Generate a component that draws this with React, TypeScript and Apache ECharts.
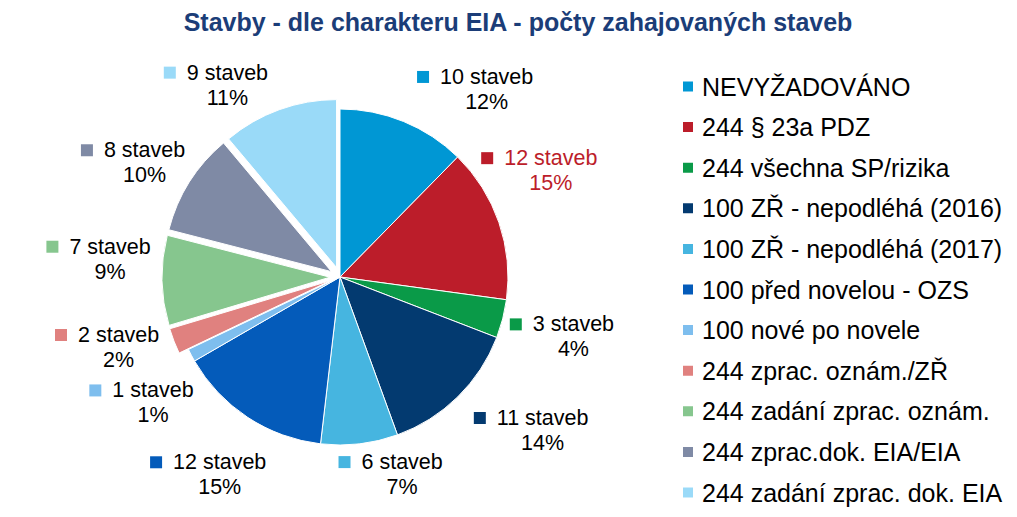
import React, { useEffect, useRef } from "react";
import * as echarts from "echarts";

const titleText = "Stavby - dle charakteru EIA - počty zahajovaných staveb";

const categories = [
  "NEVYŽADOVÁNO",
  "244 § 23a PDZ",
  "244 všechna SP/rizika",
  "100 ZŘ - nepodléhá (2016)",
  "100 ZŘ - nepodléhá (2017)",
  "100 před novelou - OZS",
  "100 nové po novele",
  "244 zprac. oznám./ZŘ",
  "244 zadání zprac. oznám.",
  "244 zprac.dok. EIA/EIA",
  "244 zadání zprac. dok. EIA",
];

const counts = [10, 12, 3, 11, 6, 12, 1, 2, 7, 8, 9];

const exploded = [false, false, false, false, false, false, false, true, true, true, true];

const sliceColors = [
  "#0097D4",
  "#BC1D2A",
  "#0A9A48",
  "#033A70",
  "#46B5E0",
  "#045BBA",
  "#7EBEEE",
  "#E0817F",
  "#86C68E",
  "#7F8AA5",
  "#9ADAF8",
];

const labelTextColors = [
  "#000000",
  "#BC1D2A",
  "#000000",
  "#000000",
  "#000000",
  "#000000",
  "#000000",
  "#000000",
  "#000000",
  "#000000",
  "#000000",
];

// label nudges (px) relative to the library's own outside-label anchor
const labelNudge = [
  [63, 5],
  [9, -39],
  [27, 8],
  [52, 5],
  [33, -9],
  [-1, 24],
  [2, 29],
  [-13, -8],
  [-7, -22],
  [-6, 2],
  [-33, 13],
];

const FONT = "'Liberation Sans', Arial, sans-serif";

function makeRich(color: string, textColor: string) {
  return {
    sq: { width: 12, height: 12, backgroundColor: color },
    gap: { width: 11 },
    pad: { width: 23 },
    t: { fontSize: 21.5, fontFamily: FONT, color: textColor },
  };
}

function nudgePadding(n: number[]) {
  const [nx, ny] = n;
  return [
    Math.max(0, 2 * ny),
    Math.max(0, -2 * nx),
    Math.max(0, -2 * ny),
    Math.max(0, 2 * nx),
  ];
}

export default function App() {
  const ref = useRef<HTMLDivElement>(null);

  useEffect(() => {
    if (!ref.current) return;
    const chart = echarts.init(ref.current, null, { renderer: "svg" });

    const data = categories.map((name, i) => ({
      name,
      value: counts[i],
      selected: exploded[i],
      itemStyle: { color: sliceColors[i] },
      label: {
        color: labelTextColors[i],
        padding: nudgePadding(labelNudge[i]),
        rich: makeRich(sliceColors[i], labelTextColors[i]),
      },
    }));

    chart.setOption({
      animation: false,
      backgroundColor: "#ffffff",
      title: {
        text: titleText,
        left: 518,
        top: 9,
        textAlign: "center",
        padding: 0,
        textStyle: {
          fontSize: 25,
          fontWeight: "bold",
          color: "#1B3D78",
          fontFamily: FONT,
        },
      },
      legend: {
        orient: "vertical",
        left: 681,
        top: 74,
        padding: 0,
        itemWidth: 12,
        itemHeight: 12,
        itemGap: 15.6,
        icon: "rect",
        selectedMode: false,
        data: categories,
        textStyle: {
          fontSize: 25,
          lineHeight: 25,
          color: "#000000",
          fontFamily: FONT,
          padding: [0, 0, 0, 3],
        },
      },
      series: [
        {
          type: "pie",
          center: [340, 277],
          radius: 168,
          startAngle: 90,
          clockwise: true,
          selectedMode: "multiple",
          selectedOffset: 10,
          avoidLabelOverlap: false,
          percentPrecision: 0,
          emphasis: { disabled: true },
          itemStyle: { borderColor: "#ffffff", borderWidth: 1 },
          label: {
            show: true,
            position: "outside",
            fontSize: 21.5,
            lineHeight: 25,
            fontFamily: FONT,
            color: "#000000",
            formatter: (p: any) =>
              `{sq|}{gap|}{t|${p.value} staveb}{pad|}\n${p.percent}%`,
          },
          labelLine: {
            show: true,
            length: 40,
            length2: 0,
            lineStyle: { opacity: 0, width: 0 },
          },
          labelLayout: () => ({ align: "center", verticalAlign: "middle" }),
          data,
        },
      ],
    });

    return () => {
      chart.dispose();
    };
  }, []);

  return (
    <div
      ref={ref}
      style={{ position: "absolute", left: 0, top: 0, width: 1017, height: 517 }}
    />
  );
}
